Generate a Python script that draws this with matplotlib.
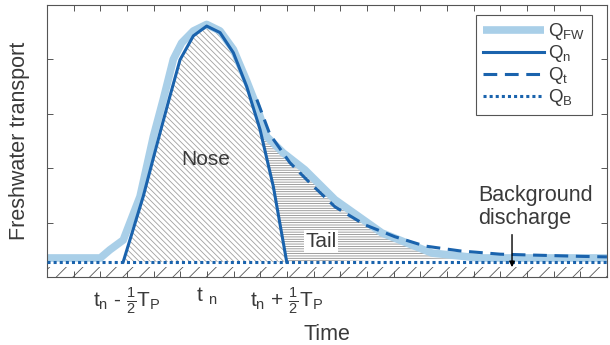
import numpy as np
import matplotlib
matplotlib.use("Agg")
import matplotlib.pyplot as plt

plt.rcParams["font.family"] = ["Liberation Sans", "DejaVu Sans"]
plt.rcParams["mathtext.default"] = "regular"
plt.rcParams["hatch.linewidth"] = 0.6

# data (x in tick units, y in tick units)
fw_x = [0, 2.0, 2.36, 2.86, 3.49, 3.99, 4.36, 4.74, 5.05, 5.49, 5.99, 6.49, 6.99,
        7.49, 7.86, 8.24, 8.86, 9.67, 10.8, 12.56, 14.44, 16.2, 21]
fw_y = [0.35, 0.35, 0.50, 0.68, 1.48, 2.58, 3.26, 4.00, 4.30, 4.52, 4.64, 4.52, 4.18,
        3.60, 3.14, 2.58, 2.28, 1.97, 1.42, 0.81, 0.44, 0.35, 0.35]

qn_x = [2.86, 3.61, 4.24, 4.61, 4.99, 5.49, 5.99, 6.49, 6.99, 7.49, 7.99, 8.49, 8.99]
qn_y = [0.28, 1.48, 2.65, 3.32, 3.99, 4.43, 4.61, 4.49, 4.12, 3.50, 2.71, 1.66, 0.28]

qt_x = [7.87, 8.36, 9.11, 9.86, 10.80, 11.92, 13.05, 14.17, 15.49, 16.99, 18.49, 19.99, 21.0]
qt_y = [3.26, 2.62, 2.10, 1.73, 1.29, 0.96, 0.74, 0.57, 0.48, 0.42, 0.40, 0.38, 0.37]

qb_level = 0.28
bg_top = 0.19

tick_pos = [3, 6, 9]
tick_labels = [r"$t_n$ - $\frac{1}{2}T_P$", r"$t\ _n$", r"$t_n$ + $\frac{1}{2}T_P$"]

dark = "#1a63ad"
light = "#a9cfe8"
txt = "#3a3a3a"

fig = plt.figure(figsize=(6.1, 3.45), dpi=100)
ax = fig.add_axes([0.077, 0.197, 0.918, 0.789])

# background discharge hatch
ax.fill_between([0, 21], 0, bg_top, facecolor="none", edgecolor="#555555",
                hatch="//", linewidth=0, zorder=1)

# nose region
ax.fill(qn_x, qn_y, facecolor="none", edgecolor="#a0a0a0", hatch="\\" * 6,
        linewidth=0, zorder=1)

# tail region: between right flank of Q_n and Q_FW
fw_x_arr = np.array(fw_x)
fw_y_arr = np.array(fw_y)
sel = (fw_x_arr >= 7.9) & (fw_x_arr <= 16.2)
tail_x = list(fw_x_arr[sel]) + [qn_x[-1], qn_x[-2], qn_x[-3]]
tail_y = list(fw_y_arr[sel]) + [qb_level, qn_y[-2], qn_y[-3]]
ax.fill(tail_x, tail_y, facecolor="none", edgecolor="#8f8f8f", hatch="-" * 7,
        linewidth=0, zorder=1)

ax.plot(fw_x, fw_y, color=light, lw=5.5, solid_joinstyle="round", solid_capstyle="butt",
        label=r"$Q_{FW}$", zorder=2)
ax.plot(qn_x, qn_y, color=dark, lw=2.2, label=r"$Q_n$", zorder=3)
ax.plot(qt_x, qt_y, color=dark, lw=2.2, linestyle=(0, (4.5, 2.5)), label=r"$Q_t$", zorder=3)
ax.plot([0, 21], [qb_level, qb_level], color=dark, lw=2.2, linestyle=(0, (1, 1)),
        label=r"$Q_B$", zorder=4)

ax.text(5.96, 2.15, "Nose", fontsize=15, color=txt, ha="center", va="center", zorder=5)
ax.text(10.28, 0.66, "Tail", fontsize=15, color=txt, ha="center", va="center", zorder=5,
        bbox=dict(facecolor="white", edgecolor="none", pad=1.0))
ax.text(16.16, 1.29, "Background\ndischarge", fontsize=15.5, color=txt, ha="left",
        va="center", zorder=5, linespacing=1.1)
ax.annotate("", xy=(17.44, 0.13), xytext=(17.44, 0.83),
            arrowprops=dict(arrowstyle="-|>", color="black", lw=1.0,
                            mutation_scale=8), zorder=5)

ax.set_xlim(0, 21)
ax.set_ylim(0, 5)
ax.set_xticks(range(1, 21))
ax.set_xticklabels([tick_labels[tick_pos.index(i)] if i in tick_pos else "" for i in range(1, 21)],
                   fontsize=15, color=txt)
ax.set_yticks([1, 2, 3, 4])
ax.set_yticklabels([])
ax.tick_params(direction="in", length=4, width=0.7, colors="#555555",
               top=True, right=True, pad=6)
for lab in ax.get_xticklabels():
    lab.set_color(txt)
for s in ax.spines.values():
    s.set_color("#555555")
    s.set_linewidth(0.8)

ax.set_xlabel("Time", fontsize=15.5, color=txt, labelpad=6)
ax.set_ylabel("Freshwater transport", fontsize=15.5, color=txt, labelpad=6)

leg = ax.legend(loc="upper right", bbox_to_anchor=(0.973, 0.963), borderaxespad=0,
                fontsize=13.5, handlelength=3.3, handletextpad=0.2, labelspacing=0.05,
                fancybox=False, framealpha=1, edgecolor="#555555", borderpad=0.35)
leg.get_frame().set_linewidth(0.8)
for t in leg.get_texts():
    t.set_color(txt)

fig.savefig("out.png", dpi=100)
